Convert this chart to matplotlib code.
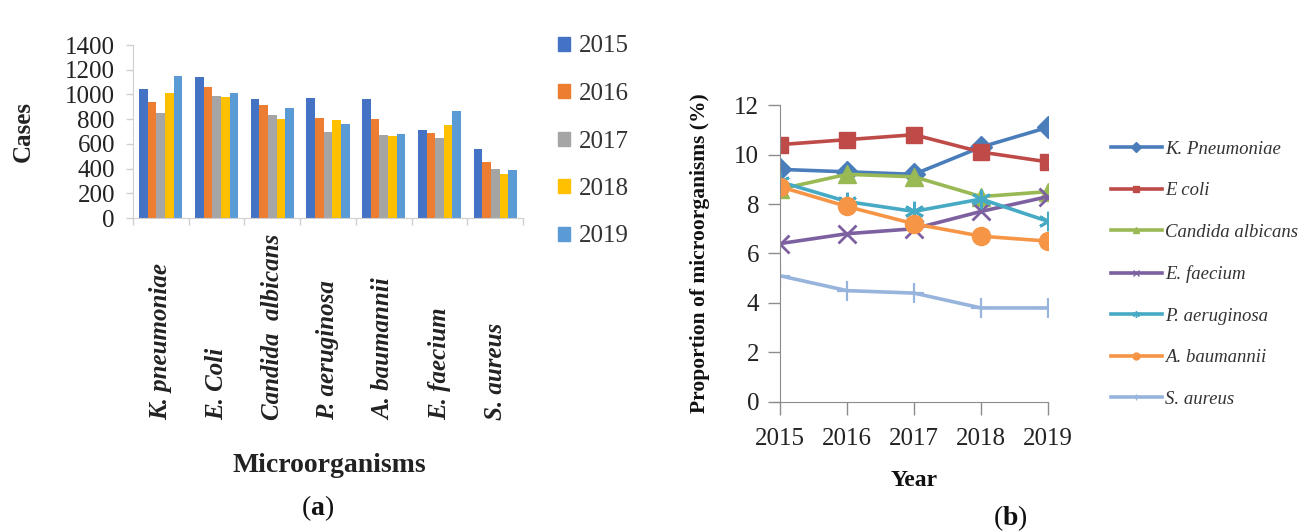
import numpy as np
import matplotlib.pyplot as plt
import matplotlib.transforms as mtransforms
from matplotlib.patches import Rectangle
from matplotlib.lines import Line2D

plt.rcParams['font.family'] = ['Liberation Serif', 'DejaVu Serif']
plt.rcParams['mathtext.fontset'] = 'custom'
plt.rcParams['mathtext.rm'] = 'Liberation Serif'
plt.rcParams['mathtext.bf'] = 'Liberation Serif:bold'

# --- data (a): cases per microorganism and year ---
organisms = ["K. pneumoniae", "E. Coli", "Candida  albicans", "P. aeruginosa",
             "A. baumannii", "E. faecium", "S. aureus"]
bar_years = ["2015", "2016", "2017", "2018", "2019"]
cases_2015 = [1040, 1140, 960, 970, 960, 710, 560]
cases_2016 = [940, 1060, 915, 810, 800, 690, 450]
cases_2017 = [850, 990, 835, 700, 670, 650, 400]
cases_2018 = [1010, 980, 800, 790, 660, 750, 360]
cases_2019 = [1150, 1010, 890, 760, 680, 870, 390]
bar_colors = ["#4472C4", "#ED7D31", "#A5A5A5", "#FFC000", "#5B9BD5"]

# --- data (b): proportion (%) per year ---
years = [2015, 2016, 2017, 2018, 2019]
k_pneumoniae = [9.4, 9.3, 9.2, 10.3, 11.1]
e_coli = [10.4, 10.6, 10.8, 10.1, 9.7]
candida = [8.6, 9.2, 9.1, 8.3, 8.5]
e_faecium = [6.4, 6.8, 7.0, 7.7, 8.3]
p_aeruginosa = [8.9, 8.1, 7.7, 8.2, 7.3]
a_baumannii = [8.7, 7.9, 7.2, 6.7, 6.5]
s_aureus = [5.1, 4.5, 4.4, 3.8, 3.8]

fig = plt.figure(figsize=(13.06, 5.32), dpi=100)

# ---------------- (a) grouped bars ----------------
ax = fig.add_axes([0.1018, 0.5902, 0.2987, 0.3252])
series = [cases_2015, cases_2016, cases_2017, cases_2018, cases_2019]
n = len(organisms)
x = np.arange(n) + 0.5
w = 0.155
for j, (vals, col) in enumerate(zip(series, bar_colors)):
    ax.bar(x + (j - 2) * w, vals, width=w, color=col, linewidth=0)
ax.set_xlim(0, n)
ax.set_ylim(0, 1400)
ax.set_yticks(np.arange(0, 1401, 200))
ax.set_xticks(np.arange(0, n + 1))
ax.set_xticklabels([])
for s in ("top", "right"):
    ax.spines[s].set_visible(False)
for s in ("left", "bottom"):
    ax.spines[s].set_color("#D0D0D0")
ax.tick_params(axis="both", colors="#D0D0D0", length=5, width=1)
ax.tick_params(axis="y", labelcolor="#222222", labelsize=18, pad=8)
ax.set_ylabel("Cases", fontsize=18, fontweight="bold", color="#222222",
              labelpad=22)

# rotated category names, bottom-aligned well below the axis
trans = mtransforms.blended_transform_factory(ax.transData, fig.transFigure)
for xi, name in zip(x, organisms):
    ax.text(xi, 1 - 420 / 532, name, transform=trans, rotation=90,
            ha="center", va="bottom", fontsize=18, style="italic",
            fontweight="bold", color="#222222")
fig.text(329 / 1306, 1 - 466 / 532, "Microorganisms", ha="center",
         va="center", fontsize=20, fontweight="bold", color="#222222")
fig.text(318 / 1306, 1 - 508 / 532, r"($\mathbf{a}$)", ha="center",
         va="center", fontsize=20, color="#111111")

bar_handles = [Rectangle((0, 0), 1, 1, color=c) for c in bar_colors]
fig.legend(bar_handles, bar_years, loc="upper left",
           bbox_to_anchor=(535 / 1306, 1 - 13 / 532), frameon=False,
           fontsize=18, handlelength=0.5, handleheight=0.5,
           handletextpad=0.35, labelspacing=1.02, labelcolor="#333333")

# ---------------- (b) lines ----------------
ax2 = fig.add_axes([0.5972, 0.2444, 0.2053, 0.5582])
line_specs = [
    ("K. Pneumoniae", k_pneumoniae, "#4A7EBB", "D", 11, 1),
    ("E coli", e_coli, "#BE4B48", "s", 12, 1),
    ("Candida albicans", candida, "#98B954", "^", 13, 1),
    ("E. faecium", e_faecium, "#7D60A0", "x", 13, 2),
    ("P. aeruginosa", p_aeruginosa, "#46AAC5", (6, 2, 0), 14, 2),
    ("A. baumannii", a_baumannii, "#F69546", "o", 13, 1),
    ("S. aureus", s_aureus, "#97B4DC", "+", 15, 1.6),
]
handles = []
for label, vals, col, mk, ms, mew in line_specs:
    ax2.plot(years, vals, color=col, linewidth=2.6, marker=mk, markersize=ms,
             markeredgewidth=mew, markeredgecolor=col, markerfacecolor=col)
    handles.append(Line2D([], [], color=col, linewidth=2.6, marker=mk,
                          markersize=5, markeredgewidth=1, markeredgecolor=col,
                          markerfacecolor=col))
ax2.set_xlim(2015, 2019)
ax2.set_ylim(0, 12)
ax2.set_xticks(years)
ax2.set_yticks(np.arange(0, 13, 2))
for s in ("top", "right"):
    ax2.spines[s].set_visible(False)
for s in ("left", "bottom"):
    ax2.spines[s].set_color("#8C8C8C")
ax2.spines["bottom"].set_bounds(2014.9, 2019)
ax2.tick_params(axis="both", colors="#8C8C8C", length=9, width=1)
ax2.tick_params(axis="both", labelcolor="#222222", labelsize=18)
ax2.tick_params(axis="x", pad=10)
ax2.tick_params(axis="y", pad=6)
ax2.set_ylabel("Proportion of microorganisms (%)", fontsize=15.5,
               fontweight="bold", color="#111111", labelpad=17)
ax2.set_xlabel("Year", fontsize=17, fontweight="bold", color="#111111",
               labelpad=14)
fig.text(1010 / 1306, 1 - 518 / 532, r"($\mathbf{b}$)", ha="center",
         va="center", fontsize=20, color="#111111")

fig.legend(handles, [s[0] for s in line_specs], loc="upper left",
           bbox_to_anchor=(1094 / 1306, 1 - 124 / 532), frameon=False,
           handlelength=2.7, handletextpad=0.2, labelspacing=1.3,
           prop={"style": "italic", "size": 13.5}, labelcolor="#333333")

fig.savefig("out.png", dpi=100, facecolor="white")
